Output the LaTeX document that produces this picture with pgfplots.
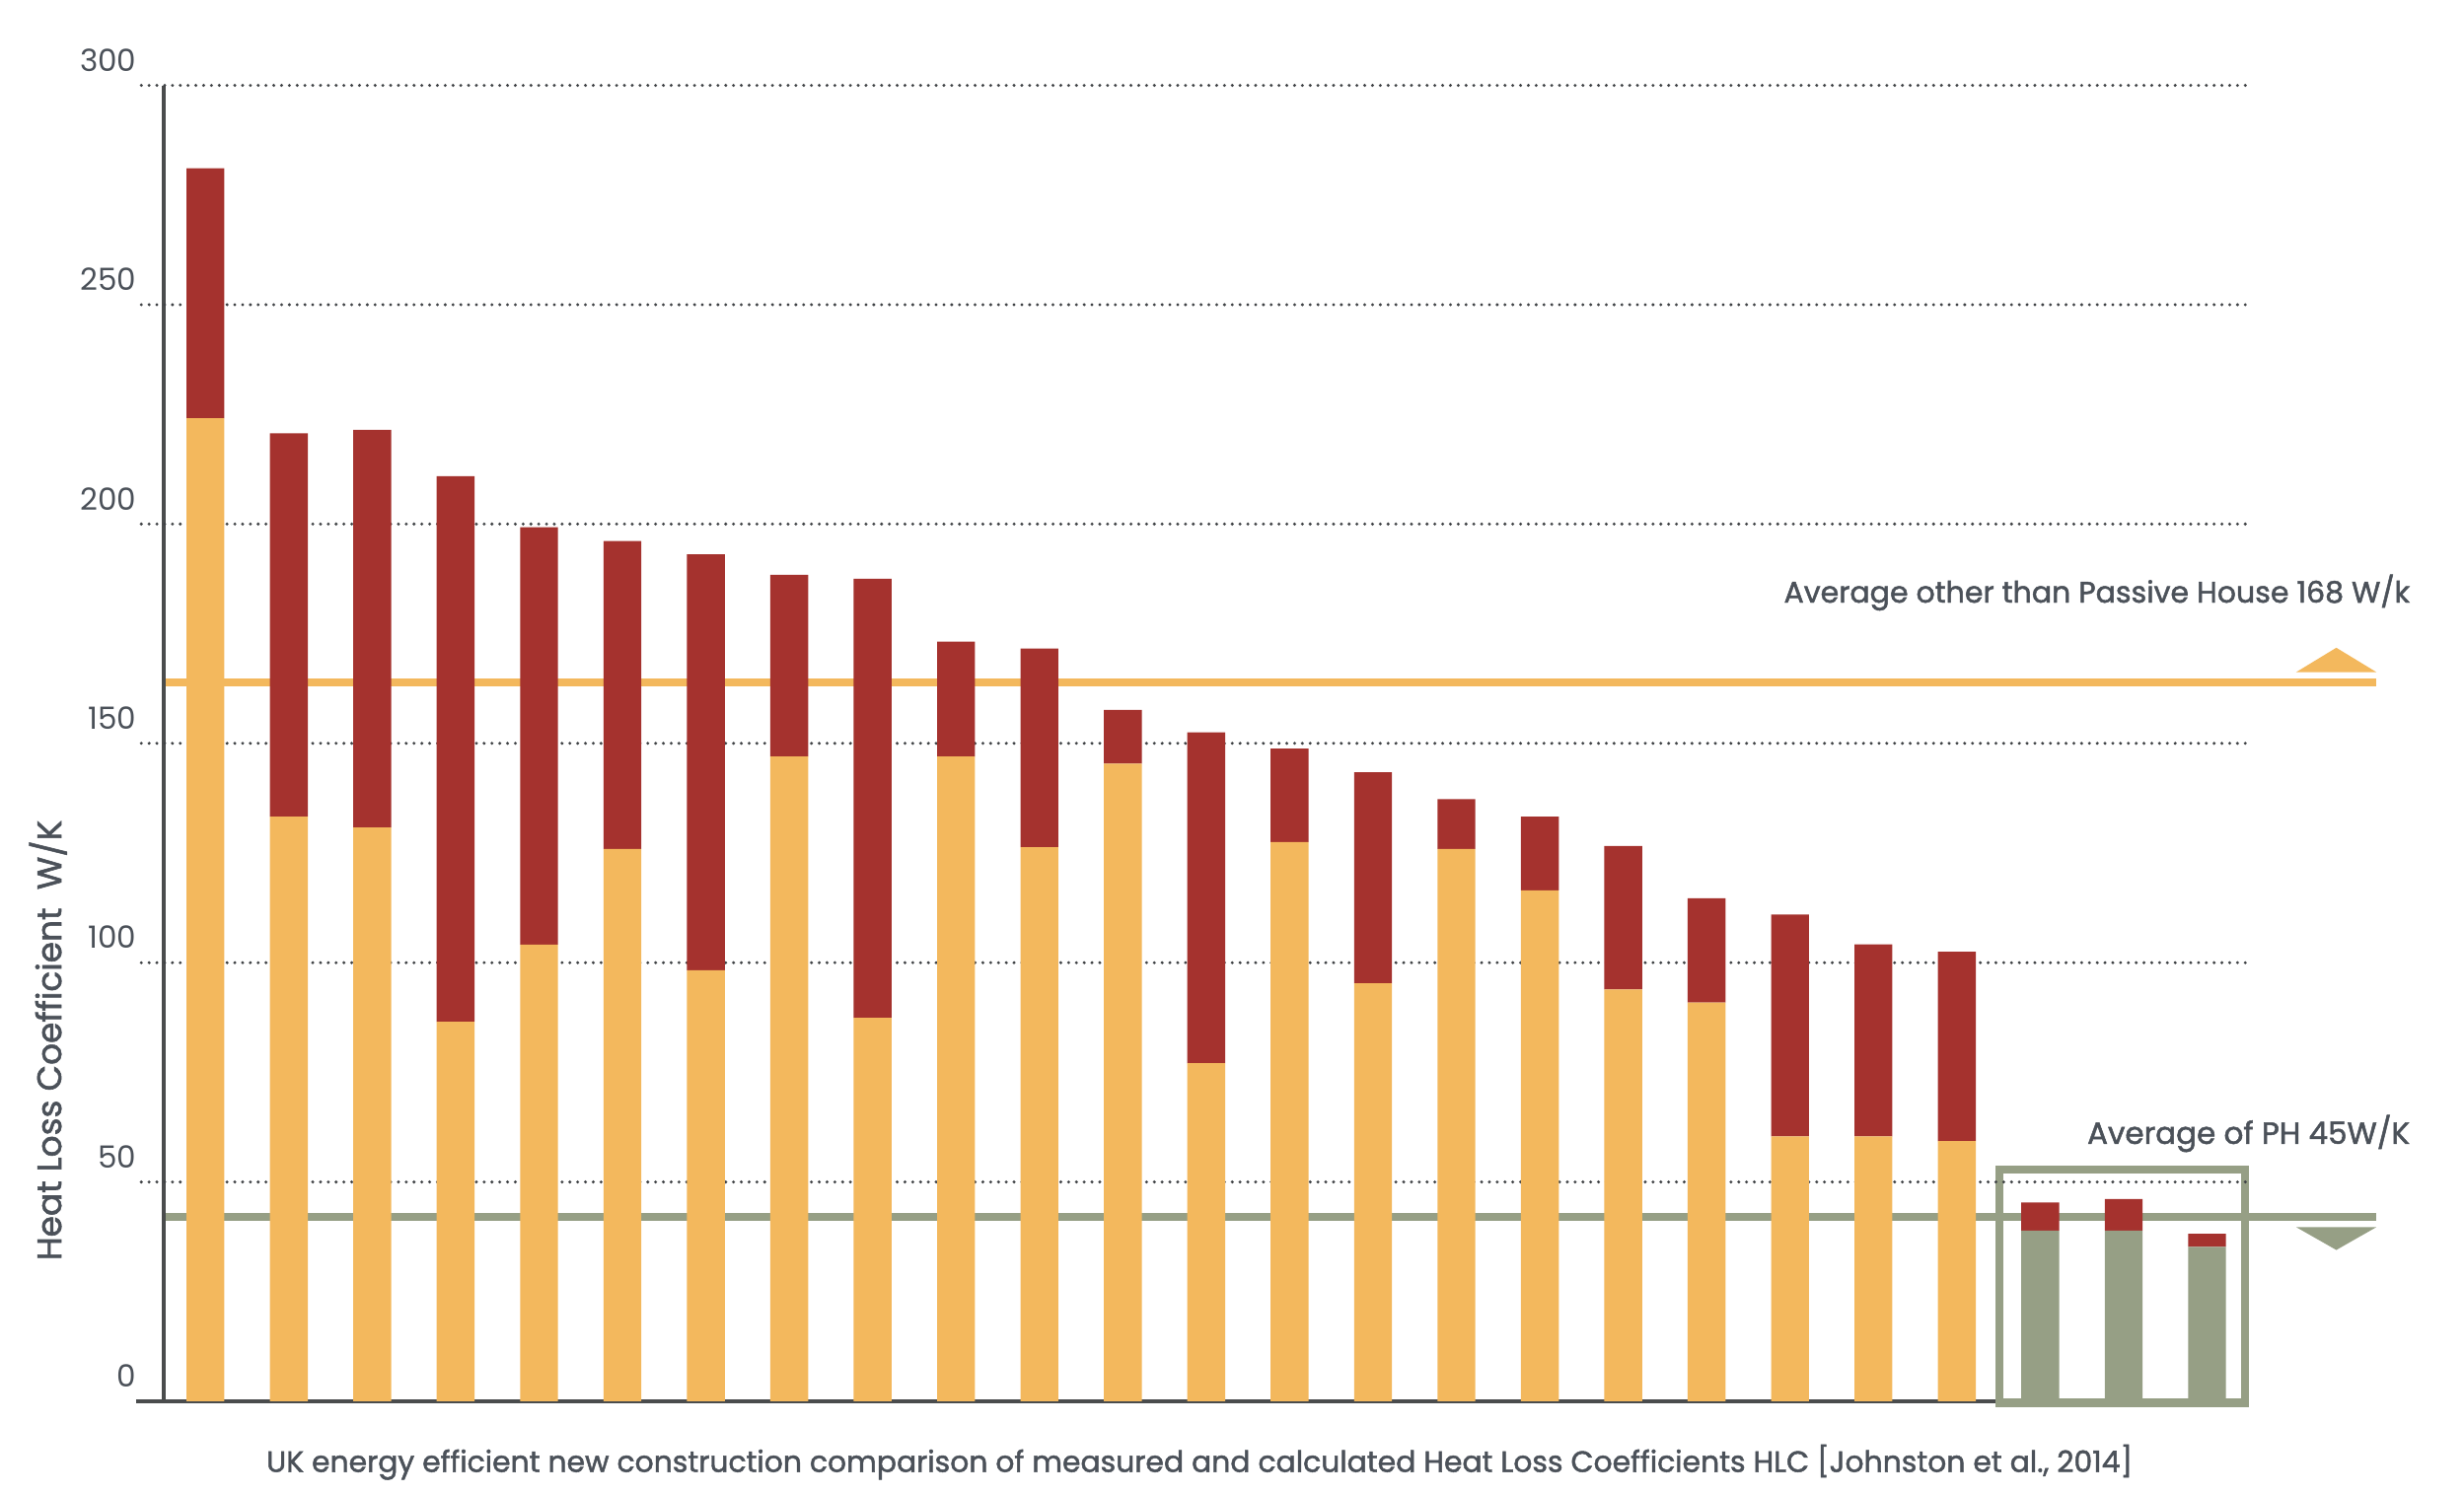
\documentclass[border=0pt]{standalone}
\usepackage{fontspec}
\setmainfont{Poppins}
\newfontfamily\medfont{Poppins}[FakeBold=1.6]
\usepackage{pgfplots}
\usepackage{pgfplotstable}
\pgfplotsset{compat=1.18}
\definecolor{barorange}{HTML}{F3B85D}
\definecolor{barred}{HTML}{A5322E}
\definecolor{bargreen}{HTML}{969F85}
\definecolor{txtgray}{HTML}{4B5159}
\definecolor{axgray}{HTML}{4A4C4D}
\definecolor{dotgray}{HTML}{404346}

% x = house, o = orange (calculated part), g = green (Passive House part), r = red (gap to measured)
\pgfplotstableread{
x o g r
1 224.1 0 57.0
2 133.3 0 87.4
3 130.8 0 90.7
4 86.5 0 124.4
5 104.1 0 95.2
6 125.9 0 70.2
7 98.3 0 94.8
8 147.0 0 41.4
9 87.4 0 100.1
10 147.0 0 26.2
11 126.3 0 45.3
12 145.4 0 12.2
13 77.1 0 75.4
14 127.5 0 21.3
15 95.3 0 48.1
16 125.9 0 11.4
17 116.5 0 16.8
18 93.9 0 32.7
19 90.9 0 23.8
20 60.4 0 50.6
21 60.4 0 43.8
22 59.3 0 43.2
23 0 38.9 6.4
24 0 38.9 7.2
25 0 35.2 3.0
}\hlcdata

\begin{document}
\begin{tikzpicture}
\useasboundingbox (-49.8pt,-28.5pt) rectangle (699.6pt,426.3pt);
\begin{axis}[
  at={(0pt,0pt)}, anchor=south west, scale only axis,
  width=684.855pt, height=400.32pt,
  xmin=0.5, xmax=27.5, ymin=0, ymax=300,
  ybar stacked, bar width=11.52pt,
  axis line style={draw=none}, tick style={draw=none},
  major tick length=0pt,
  xtick=\empty, ytick={0,50,100,150,200,250,300},
  yticklabel style={anchor=east, inner sep=0pt, xshift=-8.1pt, yshift=7.7pt,
    font=\fontsize{9.3}{11}\selectfont, text=txtgray},
  /pgf/number format/assume math mode=true,
  clip=false,
]
\addplot[fill=barorange, draw=none] table[x=x, y=o]{\hlcdata};
\addplot[fill=bargreen, draw=none] table[x=x, y=g]{\hlcdata};
\addplot[fill=barred, draw=none] table[x=x, y=r]{\hlcdata};

% dotted grid
\pgfplotsinvokeforeach{50,100,150,200,250,300}{
  \draw[dotgray, line width=1.0pt, line cap=round, dash pattern=on 0pt off 2.37pt]
    (axis cs:0.231,#1) -- (axis cs:25.52,#1);
}
% axis lines
\draw[axgray, line width=1.25pt] (axis cs:0.5,0) -- (axis cs:0.5,300);
\draw[axgray, line width=1pt] (axis cs:0.168,0) -- (axis cs:22.46,0);

% Passive House box
\draw[bargreen, line width=2.5pt] (axis cs:22.51,-0.35) rectangle (axis cs:25.456,52.8);

% average lines and triangles
\draw[barorange, line width=2.3pt] (axis cs:0.5,163.9) -- (axis cs:27.03,163.9);
\fill[barorange] (axis cs:26.07,166.25) -- (axis cs:26.55,171.8) -- (axis cs:27.03,166.25) -- cycle;
\draw[bargreen, line width=2.4pt] (axis cs:0.5,42.15) -- (axis cs:27.03,42.15);
\fill[bargreen] (axis cs:26.07,39.7) -- (axis cs:26.55,34.5) -- (axis cs:27.03,39.7) -- cycle;

% texts
\node[anchor=base east, inner sep=0pt, text=txtgray, font=\medfont\fontsize{9.0}{11}\selectfont]
  at (axis cs:27.44,182.1) {Average other than Passive House 168 W/k};
\node[anchor=base east, inner sep=0pt, text=txtgray, font=\medfont\fontsize{9.3}{11}\selectfont]
  at (axis cs:27.44,58.7) {Average of PH 45W/K};
\node[anchor=base, inner sep=0pt, text=txtgray, font=\medfont\fontsize{8.95}{11}\selectfont]
  at (axis cs:12.92,-16.1) {UK energy efficient new construction comparison of measured and calculated Heat Loss Coefficients HLC [Johnston et al., 2014]};
\node[rotate=90, anchor=base, inner sep=0pt, text=txtgray, font=\medfont\fontsize{10.3}{12}\selectfont]
  at (axis cs:-0.730,82.3) {Heat Loss Coefficient\ \ W/K};
\end{axis}
\end{tikzpicture}
\end{document}
